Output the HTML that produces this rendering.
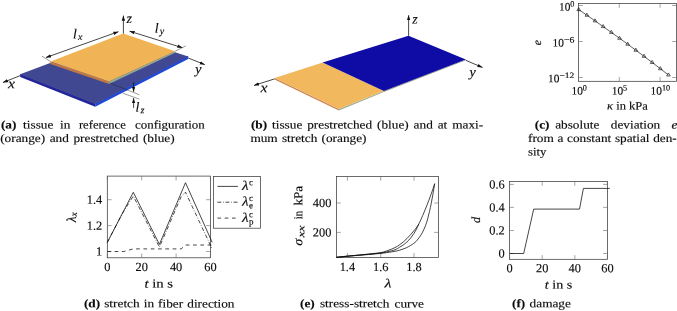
<!DOCTYPE html>
<html><head><meta charset="utf-8"><title>figure</title>
<style>
html,body{margin:0;padding:0;background:#fff;}
body{width:677px;height:311px;overflow:hidden;}
svg{display:block;}
text{font-family:"Liberation Serif",serif;fill:#0c0c0c;stroke:#0c0c0c;stroke-width:0.14;text-rendering:geometricPrecision;}
.i{font-style:italic;}
.b{font-weight:bold;}
.ax{stroke:#333;stroke-width:0.72;fill:none;}
.tk{stroke:#666;stroke-width:0.6;fill:none;}
.th{stroke:#222;stroke-width:0.45;fill:none;}
.ln{stroke:#0a0a0a;stroke-width:0.75;fill:none;}
</style></head><body>
<svg width="677" height="311" viewBox="0 0 677 311">
<defs>
<marker id="ar" viewBox="0 0 10 10" refX="9.6" refY="5" markerWidth="5.3" markerHeight="5.3" orient="auto-start-reverse" markerUnits="userSpaceOnUse"><path d="M0,1.8 L10,5 L0,8.2 Z" fill="#111"/></marker>
</defs>
<rect width="677" height="311" fill="#fff"/>

<g id="pa">
<polygon points="20.2,73.7 95.2,103.4 95.2,106.7 20.2,77.0" fill="#24259a"/>
<polygon points="95.2,103.4 188.2,55.8 188.2,59.1 95.2,106.7" fill="#1f49d6"/>
<polygon points="20.2,74.3 123.3,35.6 188.2,56.4 95.2,104.0" fill="#3f4891"/>
<polygon points="50.3,61.6 109.0,81.6 109.0,84.1 50.3,64.1" fill="#c07845"/>
<polygon points="109.0,81.6 175.2,51.2 175.2,52.7 109.0,84.1" fill="#93a890"/>
<polygon points="50.6,61.6 123.2,33.6 175.2,51.2 109.0,81.6" fill="#f0b355"/>
<line class="ln" x1="123.4" y1="33.6" x2="123.4" y2="15.6" marker-end="url(#ar)"/>
<line class="ln" x1="20.2" y1="75.6" x2="3.0" y2="82.5" marker-end="url(#ar)"/>
<line class="ln" x1="188.2" y1="58.0" x2="204.8" y2="64.6" marker-end="url(#ar)"/>
<text transform="matrix(1,0.001,0.001,1,126.6,22.9)" class="i" font-size="14">z</text>
<text transform="matrix(1,0.001,0.001,1,7.9,88.3)" class="i" font-size="14" textLength="7.0" lengthAdjust="spacingAndGlyphs">x</text>
<text transform="matrix(1,0.001,0.001,1,195.2,73.6)" class="i" font-size="14">y</text>
<line class="ln" x1="46.0" y1="57.5" x2="118.4" y2="31.7" marker-start="url(#ar)" marker-end="url(#ar)"/>
<line class="th" x1="50.6" y1="61.6" x2="41.9" y2="56.1"/>
<text transform="matrix(1,0.001,0.001,1,73.0,38.4)" class="i" font-size="14">l<tspan font-size="10" dx="1" dy="1.5">x</tspan></text>
<line class="ln" x1="129.6" y1="31.2" x2="182.4" y2="47.7" marker-start="url(#ar)" marker-end="url(#ar)"/>
<line class="th" x1="175.2" y1="51.2" x2="186" y2="45.8"/>
<text transform="matrix(1,0.001,0.001,1,154.8,32.8)" class="i" font-size="14">l<tspan font-size="10" dx="1" dy="1.5">y</tspan></text>
<line class="th" x1="109.7" y1="82.9" x2="139.4" y2="94.8"/>
<line class="th" x1="122.7" y1="93.2" x2="139.4" y2="99.2"/>
<line class="ln" x1="133.6" y1="82.3" x2="133.6" y2="91.8" marker-end="url(#ar)"/>
<line class="ln" x1="133.6" y1="107.9" x2="133.6" y2="98.2" marker-end="url(#ar)"/>
<text transform="matrix(1,0.001,0.001,1,135.4,111.8)" class="i" font-size="14">l<tspan font-size="10" dx="1.3" dy="1.5">z</tspan></text>
</g>
<g id="pb">
<polygon points="274.6,78.1 338.9,109.0 338.9,110.5 274.6,79.6" fill="#cc8150"/>
<polygon points="338.9,109.0 383.9,90.9 383.9,92.1 338.9,110.5" fill="#9aae98"/>
<polygon points="383.9,90.9 465.8,59.5 465.8,60.2 383.9,91.9" fill="#8f9c86"/>
<polygon points="274.6,78.1 322.6,62.4 383.9,90.9 338.9,109.0" fill="#f2b85e"/>
<polygon points="322.6,62.4 408.5,35.8 465.8,59.5 383.9,90.9" fill="#0f0ca6"/>
<line class="ln" x1="408.6" y1="35.8" x2="408.6" y2="15.3" marker-end="url(#ar)"/>
<line class="ln" x1="274.6" y1="78.9" x2="254.0" y2="85.4" marker-end="url(#ar)"/>
<line class="ln" x1="465.8" y1="60.3" x2="482.5" y2="67.5" marker-end="url(#ar)"/>
<text transform="matrix(1,0.001,0.001,1,412.2,23.4)" class="i" font-size="14">z</text>
<text transform="matrix(1,0.001,0.001,1,260.5,92.3)" class="i" font-size="14" textLength="7.0" lengthAdjust="spacingAndGlyphs">x</text>
<text transform="matrix(1,0.001,0.001,1,469.4,76.5)" class="i" font-size="14">y</text>
</g>
<text transform="matrix(1,0.001,0.001,1,0.90,128.40)" font-size="11.60" textLength="69.5" lengthAdjust="spacingAndGlyphs" word-spacing="2.96" xml:space="preserve"><tspan class="b">(a)</tspan> tissue in</text>
<text transform="matrix(1,0.001,0.001,1,78.90,128.40)" font-size="11.60" textLength="46.9" lengthAdjust="spacingAndGlyphs" word-spacing="0.00" xml:space="preserve"><tspan class="b"></tspan>reference</text>
<text transform="matrix(1,0.001,0.001,1,134.90,128.40)" font-size="11.60" textLength="69.9" lengthAdjust="spacingAndGlyphs" word-spacing="0.00" xml:space="preserve"><tspan class="b"></tspan>configuration</text>
<text transform="matrix(1,0.001,0.001,1,0.20,141.95)" font-size="11.60" textLength="174.4" lengthAdjust="spacingAndGlyphs" word-spacing="1.07" xml:space="preserve"><tspan class="b"></tspan>(orange) and prestretched (blue)</text>
<text transform="matrix(1,0.001,0.001,1,250.90,128.40)" font-size="11.60" textLength="232.3" lengthAdjust="spacingAndGlyphs" word-spacing="1.39" xml:space="preserve"><tspan class="b">(b)</tspan> tissue prestretched (blue) and at maxi-</text>
<text transform="matrix(1,0.001,0.001,1,250.40,141.95)" font-size="11.60" textLength="116.1" lengthAdjust="spacingAndGlyphs" word-spacing="0.77" xml:space="preserve"><tspan class="b"></tspan>mum stretch (orange)</text>
<text transform="matrix(1,0.001,0.001,1,534.80,128.40)" font-size="11.60" textLength="64.6" lengthAdjust="spacingAndGlyphs" word-spacing="1.99" xml:space="preserve"><tspan class="b">(c)</tspan> absolute</text>
<text transform="matrix(1,0.001,0.001,1,610.80,128.40)" font-size="11.60" textLength="66.5" lengthAdjust="spacingAndGlyphs" word-spacing="6.87" xml:space="preserve"><tspan class="b"></tspan>deviation <tspan class="i">e</tspan></text>
<text transform="matrix(1,0.001,0.001,1,528.00,141.95)" font-size="11.60" textLength="148.8" lengthAdjust="spacingAndGlyphs" word-spacing="0.28" xml:space="preserve"><tspan class="b"></tspan>from a constant spatial den-</text>
<text transform="matrix(1,0.001,0.001,1,528.00,155.50)" font-size="11.60" textLength="18.5" lengthAdjust="spacingAndGlyphs" word-spacing="0.00" xml:space="preserve"><tspan class="b"></tspan>sity</text>
<text transform="matrix(1,0.001,0.001,1,83.90,307.30)" font-size="11.60" textLength="150.6" lengthAdjust="spacingAndGlyphs" word-spacing="0.67" xml:space="preserve"><tspan class="b">(d)</tspan> stretch in fiber direction</text>
<text transform="matrix(1,0.001,0.001,1,300.00,307.30)" font-size="11.60" textLength="124.0" lengthAdjust="spacingAndGlyphs" word-spacing="1.65" xml:space="preserve"><tspan class="b">(e)</tspan> stress-stretch curve</text>
<text transform="matrix(1,0.001,0.001,1,512.00,307.30)" font-size="11.60" textLength="58.9" lengthAdjust="spacingAndGlyphs" word-spacing="0.88" xml:space="preserve"><tspan class="b">(f)</tspan> damage</text>
<g id="pc">
<rect class="ax" x="578.5" y="3.5" width="98.0" height="77.8"/>
<line class="tk" x1="619.3" y1="81.3" x2="619.3" y2="77.0"/>
<line class="tk" x1="619.3" y1="3.5" x2="619.3" y2="7.8"/>
<line class="tk" x1="660.1" y1="81.3" x2="660.1" y2="77.0"/>
<line class="tk" x1="660.1" y1="3.5" x2="660.1" y2="7.8"/>
<line class="tk" x1="578.5" y1="5.5" x2="582.8" y2="5.5"/>
<line class="tk" x1="676.5" y1="5.5" x2="672.2" y2="5.5"/>
<line class="tk" x1="578.5" y1="41.5" x2="582.8" y2="41.5"/>
<line class="tk" x1="676.5" y1="41.5" x2="672.2" y2="41.5"/>
<line class="tk" x1="578.5" y1="77.5" x2="582.8" y2="77.5"/>
<line class="tk" x1="676.5" y1="77.5" x2="672.2" y2="77.5"/>
<polyline class="ln" style="stroke-width:0.65" points="578.7,9.6 586.9,15.2 595.0,20.8 603.2,26.6 611.3,32.4 619.5,38.2 627.7,44.2 635.8,50.2 644.0,56.3 652.1,62.4 660.3,68.7 668.5,75.0"/>
<path d="M578.70,7.55 l1.85,3.1 h-3.7 z" fill="none" stroke="#000" stroke-width="0.6"/>
<path d="M586.86,13.14 l1.85,3.1 h-3.7 z" fill="none" stroke="#000" stroke-width="0.6"/>
<path d="M595.02,18.79 l1.85,3.1 h-3.7 z" fill="none" stroke="#000" stroke-width="0.6"/>
<path d="M603.18,24.52 l1.85,3.1 h-3.7 z" fill="none" stroke="#000" stroke-width="0.6"/>
<path d="M611.34,30.32 l1.85,3.1 h-3.7 z" fill="none" stroke="#000" stroke-width="0.6"/>
<path d="M619.50,36.19 l1.85,3.1 h-3.7 z" fill="none" stroke="#000" stroke-width="0.6"/>
<path d="M627.66,42.13 l1.85,3.1 h-3.7 z" fill="none" stroke="#000" stroke-width="0.6"/>
<path d="M635.82,48.14 l1.85,3.1 h-3.7 z" fill="none" stroke="#000" stroke-width="0.6"/>
<path d="M643.98,54.23 l1.85,3.1 h-3.7 z" fill="none" stroke="#000" stroke-width="0.6"/>
<path d="M652.14,60.38 l1.85,3.1 h-3.7 z" fill="none" stroke="#000" stroke-width="0.6"/>
<path d="M660.30,66.61 l1.85,3.1 h-3.7 z" fill="none" stroke="#000" stroke-width="0.6"/>
<path d="M668.46,72.91 l1.85,3.1 h-3.7 z" fill="none" stroke="#000" stroke-width="0.6"/>
<text transform="matrix(1,0.001,0.001,1,571.5,94.6)" font-size="11.4">10</text>
<text transform="matrix(1,0.001,0.001,1,582.8,90.4)" font-size="8.2" textLength="4.1" lengthAdjust="spacingAndGlyphs">0</text>
<text transform="matrix(1,0.001,0.001,1,611.8,94.6)" font-size="11.4">10</text>
<text transform="matrix(1,0.001,0.001,1,623.1,90.4)" font-size="8.2" textLength="4.1" lengthAdjust="spacingAndGlyphs">5</text>
<text transform="matrix(1,0.001,0.001,1,650.6,94.6)" font-size="11.4">10</text>
<text transform="matrix(1,0.001,0.001,1,661.9,90.4)" font-size="8.2" textLength="8.2" lengthAdjust="spacingAndGlyphs">10</text>
<text transform="matrix(1,0.001,0.001,1,559.0,10.6)" font-size="11.4">10</text>
<text transform="matrix(1,0.001,0.001,1,570.3,6.4)" font-size="8.2" textLength="4.1" lengthAdjust="spacingAndGlyphs">0</text>
<text transform="matrix(1,0.001,0.001,1,552.6,46.6)" font-size="11.4">10</text>
<text transform="matrix(1,0.001,0.001,1,563.9,42.4)" font-size="8.2" textLength="10.5" lengthAdjust="spacingAndGlyphs">−6</text>
<text transform="matrix(1,0.001,0.001,1,548.1,82.3)" font-size="11.4">10</text>
<text transform="matrix(1,0.001,0.001,1,559.4,78.1)" font-size="8.2" textLength="15.0" lengthAdjust="spacingAndGlyphs">−12</text>
<text transform="matrix(1,0.001,0.001,1,607.1,109.6)" font-size="11.6" textLength="40.7" lengthAdjust="spacingAndGlyphs"><tspan class="i">κ</tspan> in kPa</text>
<text class="i" transform="translate(541.0,42.7) rotate(-90)" font-size="11.6" text-anchor="middle">e</text>
</g>
<g id="pd">
<rect class="ax" x="107.3" y="176.1" width="103.1" height="81.7"/>
<line class="tk" x1="107.3" y1="257.8" x2="107.3" y2="253.5"/>
<line class="tk" x1="107.3" y1="176.1" x2="107.3" y2="180.4"/>
<line class="tk" x1="141.7" y1="257.8" x2="141.7" y2="253.5"/>
<line class="tk" x1="141.7" y1="176.1" x2="141.7" y2="180.4"/>
<line class="tk" x1="176.1" y1="257.8" x2="176.1" y2="253.5"/>
<line class="tk" x1="176.1" y1="176.1" x2="176.1" y2="180.4"/>
<line class="tk" x1="210.4" y1="257.8" x2="210.4" y2="253.5"/>
<line class="tk" x1="210.4" y1="176.1" x2="210.4" y2="180.4"/>
<line class="tk" x1="107.3" y1="251.5" x2="111.6" y2="251.5"/>
<line class="tk" x1="210.4" y1="251.5" x2="206.1" y2="251.5"/>
<line class="tk" x1="107.3" y1="225.6" x2="111.6" y2="225.6"/>
<line class="tk" x1="210.4" y1="225.6" x2="206.1" y2="225.6"/>
<line class="tk" x1="107.3" y1="199.7" x2="111.6" y2="199.7"/>
<line class="tk" x1="210.4" y1="199.7" x2="206.1" y2="199.7"/>
<text transform="matrix(1,0.001,0.001,1,107.3,270.9)" font-size="12.4" text-anchor="middle">0</text>
<text transform="matrix(1,0.001,0.001,1,141.7,270.9)" font-size="12.4" text-anchor="middle">20</text>
<text transform="matrix(1,0.001,0.001,1,176.1,270.9)" font-size="12.4" text-anchor="middle">40</text>
<text transform="matrix(1,0.001,0.001,1,210.4,270.9)" font-size="12.4" text-anchor="middle">60</text>
<text transform="matrix(1,0.001,0.001,1,102.3,255.6)" font-size="12.4" text-anchor="end">1</text>
<text transform="matrix(1,0.001,0.001,1,102.3,229.7)" font-size="12.4" text-anchor="end">1.2</text>
<text transform="matrix(1,0.001,0.001,1,102.3,203.8)" font-size="12.4" text-anchor="end">1.4</text>
<polyline class="ln" stroke-dasharray="3.9,1.8,0.7,1.7" points="107.3,242.4 122.3,213.6 133.3,196.0 159.4,247.1 181.2,196.6 185.5,192.2 212.2,249.0"/>
<polyline class="ln" stroke-dasharray="3.7,3.6" points="107.3,251.5 123.8,251.5 133.3,248.9 181.2,248.9 185.5,245.0 212.2,245.0"/>
<polyline class="ln" points="107.3,242.4 133.3,192.3 159.4,244.4 185.5,182.7 212.2,242.4"/>
<text transform="matrix(1,0.001,0.001,1,144.4,287.6)" font-size="12.2" textLength="28.7" lengthAdjust="spacingAndGlyphs"><tspan class="i">t</tspan> in s</text>
<text class="i" transform="translate(75.7,217.3) rotate(-90)" font-size="13.5" text-anchor="middle">λ<tspan font-size="9.5" dy="1.5">x</tspan></text>
<rect class="ax" x="213.5" y="176.45" width="47.0" height="51.75" fill="#fff"/>
<line class="ln" x1="217.4" y1="186.4" x2="237.9" y2="186.4"/>
<line class="ln" stroke-dasharray="3.9,1.8,0.7,1.7" x1="217.4" y1="202.2" x2="237.9" y2="202.2"/>
<line class="ln" stroke-dasharray="3.7,3.6" x1="217.4" y1="218.1" x2="237.9" y2="218.1"/>
<text transform="matrix(1,0.001,0.001,1,241.9,190.0)" class="i" font-size="13.3" textLength="6.6" lengthAdjust="spacingAndGlyphs">λ</text>
<text transform="matrix(1,0.001,0.001,1,248.9,185.3)" font-size="9.0">c</text>
<text transform="matrix(1,0.001,0.001,1,241.9,205.7)" class="i" font-size="13.3" textLength="6.6" lengthAdjust="spacingAndGlyphs">λ</text>
<text transform="matrix(1,0.001,0.001,1,248.9,201.0)" font-size="9.0">c</text>
<text transform="matrix(1,0.001,0.001,1,248.9,208.3)" font-size="9.0">e</text>
<text transform="matrix(1,0.001,0.001,1,241.9,222.0)" class="i" font-size="13.3" textLength="6.6" lengthAdjust="spacingAndGlyphs">λ</text>
<text transform="matrix(1,0.001,0.001,1,248.9,217.3)" font-size="9.0">c</text>
<text transform="matrix(1,0.001,0.001,1,248.9,224.6)" font-size="9.0">p</text>
</g>
<g id="pe">
<rect class="ax" x="336.5" y="176.5" width="102.0" height="80.9"/>
<line class="tk" x1="347.4" y1="257.4" x2="347.4" y2="253.1"/>
<line class="tk" x1="347.4" y1="176.5" x2="347.4" y2="180.8"/>
<line class="tk" x1="380.7" y1="257.4" x2="380.7" y2="253.1"/>
<line class="tk" x1="380.7" y1="176.5" x2="380.7" y2="180.8"/>
<line class="tk" x1="414.0" y1="257.4" x2="414.0" y2="253.1"/>
<line class="tk" x1="414.0" y1="176.5" x2="414.0" y2="180.8"/>
<line class="tk" x1="336.5" y1="232.4" x2="340.8" y2="232.4"/>
<line class="tk" x1="438.5" y1="232.4" x2="434.2" y2="232.4"/>
<line class="tk" x1="336.5" y1="203.0" x2="340.8" y2="203.0"/>
<line class="tk" x1="438.5" y1="203.0" x2="434.2" y2="203.0"/>
<text transform="matrix(1,0.001,0.001,1,347.4,270.9)" font-size="12.4" text-anchor="middle">1.4</text>
<text transform="matrix(1,0.001,0.001,1,380.7,270.9)" font-size="12.4" text-anchor="middle">1.6</text>
<text transform="matrix(1,0.001,0.001,1,414.0,270.9)" font-size="12.4" text-anchor="middle">1.8</text>
<text transform="matrix(1,0.001,0.001,1,331.4,236.5)" font-size="12.4" text-anchor="end">200</text>
<text transform="matrix(1,0.001,0.001,1,331.4,207.1)" font-size="12.4" text-anchor="end">400</text>
<path class="ln" d="M336.50,257.30 C338.32,257.10 342.82,256.57 347.40,256.10 C351.98,255.63 358.45,255.08 364.00,254.50 C369.55,253.92 376.70,253.28 380.70,252.60 C384.70,251.92 385.62,251.23 388.00,250.40 C390.38,249.57 393.08,248.53 395.00,247.60 C396.92,246.67 398.08,245.77 399.50,244.80 C400.92,243.83 402.22,242.88 403.50,241.80 C404.78,240.72 405.95,239.57 407.20,238.30 C408.45,237.03 409.70,235.68 411.00,234.20 C412.30,232.72 413.70,231.10 415.00,229.40 C416.30,227.70 417.52,226.32 418.80,224.00 C420.08,221.68 421.38,218.52 422.70,215.50 C424.02,212.48 425.32,209.40 426.70,205.90 C428.08,202.40 429.67,198.20 431.00,194.50 C432.33,190.80 434.08,185.50 434.70,183.70"/>
<path class="ln" d="M336.50,257.30 C338.32,257.12 342.82,256.63 347.40,256.20 C351.98,255.77 358.45,255.23 364.00,254.70 C369.55,254.17 376.70,253.52 380.70,253.00 C384.70,252.48 385.62,252.13 388.00,251.60 C390.38,251.07 393.08,250.52 395.00,249.80 C396.92,249.08 398.08,248.13 399.50,247.30 C400.92,246.47 402.25,245.70 403.50,244.80 C404.75,243.90 405.78,243.05 407.00,241.90 C408.22,240.75 409.63,239.32 410.80,237.90 C411.97,236.48 413.05,234.88 414.00,233.40 C414.95,231.92 415.70,230.57 416.50,229.00 C417.30,227.43 418.42,224.83 418.80,224.00"/>
<path class="ln" d="M336.50,257.30 C338.32,257.13 342.82,256.70 347.40,256.30 C351.98,255.90 358.45,255.38 364.00,254.90 C369.55,254.42 376.70,253.82 380.70,253.40 C384.70,252.98 385.62,252.75 388.00,252.40 C390.38,252.05 393.08,251.67 395.00,251.30 C396.92,250.93 397.55,250.82 399.50,250.20 C401.45,249.58 404.30,248.75 406.70,247.60 C409.10,246.45 412.13,244.57 413.90,243.30 C415.67,242.03 416.10,241.42 417.30,240.00 C418.50,238.58 419.98,236.60 421.10,234.80 C422.22,233.00 423.07,231.28 424.00,229.20 C424.93,227.12 425.93,224.67 426.70,222.30 C427.47,219.93 427.98,217.47 428.60,215.00 C429.22,212.53 429.73,210.67 430.40,207.50 C431.07,204.33 431.88,199.97 432.60,196.00 C433.32,192.03 434.35,185.75 434.70,183.70"/>
<text transform="matrix(1,0.001,0.001,1,384.4,287.5)" class="i" font-size="12.6" textLength="7.0" lengthAdjust="spacingAndGlyphs">λ</text>
<g transform="matrix(0.001,-1,1,0.001,302.3,245.8)">
<text transform="matrix(1,0.001,0.001,1,0,0)" class="i" font-size="13" textLength="7.0" lengthAdjust="spacingAndGlyphs">σ</text>
<text transform="matrix(1,0.001,0.001,1,8.4,2.0)" class="i" font-size="9.4" textLength="12.0" lengthAdjust="spacingAndGlyphs">xx</text>
<text transform="matrix(1,0.001,0.001,1,26.6,0)" font-size="12.2" textLength="8.3" lengthAdjust="spacingAndGlyphs">in</text>
<text transform="matrix(1,0.001,0.001,1,40.3,0)" font-size="12.2" textLength="19.6" lengthAdjust="spacingAndGlyphs">kPa</text>
</g>
</g>
<g id="pf">
<rect class="ax" x="509.6" y="181.4" width="97.8" height="77.9"/>
<line class="tk" x1="509.6" y1="259.4" x2="509.6" y2="255.1"/>
<line class="tk" x1="509.6" y1="181.4" x2="509.6" y2="185.8"/>
<line class="tk" x1="542.2" y1="259.4" x2="542.2" y2="255.1"/>
<line class="tk" x1="542.2" y1="181.4" x2="542.2" y2="185.8"/>
<line class="tk" x1="574.8" y1="259.4" x2="574.8" y2="255.1"/>
<line class="tk" x1="574.8" y1="181.4" x2="574.8" y2="185.8"/>
<line class="tk" x1="607.4" y1="259.4" x2="607.4" y2="255.1"/>
<line class="tk" x1="607.4" y1="181.4" x2="607.4" y2="185.8"/>
<line class="tk" x1="509.6" y1="253.5" x2="513.9" y2="253.5"/>
<line class="tk" x1="607.4" y1="253.5" x2="603.1" y2="253.5"/>
<line class="tk" x1="509.6" y1="230.5" x2="513.9" y2="230.5"/>
<line class="tk" x1="607.4" y1="230.5" x2="603.1" y2="230.5"/>
<line class="tk" x1="509.6" y1="207.4" x2="513.9" y2="207.4"/>
<line class="tk" x1="607.4" y1="207.4" x2="603.1" y2="207.4"/>
<line class="tk" x1="509.6" y1="184.4" x2="513.9" y2="184.4"/>
<line class="tk" x1="607.4" y1="184.4" x2="603.1" y2="184.4"/>
<text transform="matrix(1,0.001,0.001,1,509.6,272.3)" font-size="12.4" text-anchor="middle">0</text>
<text transform="matrix(1,0.001,0.001,1,542.2,272.3)" font-size="12.4" text-anchor="middle">20</text>
<text transform="matrix(1,0.001,0.001,1,574.8,272.3)" font-size="12.4" text-anchor="middle">40</text>
<text transform="matrix(1,0.001,0.001,1,607.4,272.3)" font-size="12.4" text-anchor="middle">60</text>
<text transform="matrix(1,0.001,0.001,1,504.7,257.6)" font-size="12.4" text-anchor="end">0</text>
<text transform="matrix(1,0.001,0.001,1,504.7,234.6)" font-size="12.4" text-anchor="end">0.2</text>
<text transform="matrix(1,0.001,0.001,1,504.7,211.5)" font-size="12.4" text-anchor="end">0.4</text>
<text transform="matrix(1,0.001,0.001,1,504.7,188.5)" font-size="12.4" text-anchor="end">0.6</text>
<polyline class="ln" points="509.6,253.5 523.7,253.5 533.7,209.1 579.5,209.1 583.4,188.4 609.8,188.4"/>
<text transform="matrix(1,0.001,0.001,1,544.8,288.4)" font-size="12.2" textLength="27.4" lengthAdjust="spacingAndGlyphs"><tspan class="i">t</tspan> in s</text>
<text class="i" transform="translate(480.2,220) rotate(-90)" font-size="12.4" text-anchor="middle">d</text>
</g>
</svg></body></html>
